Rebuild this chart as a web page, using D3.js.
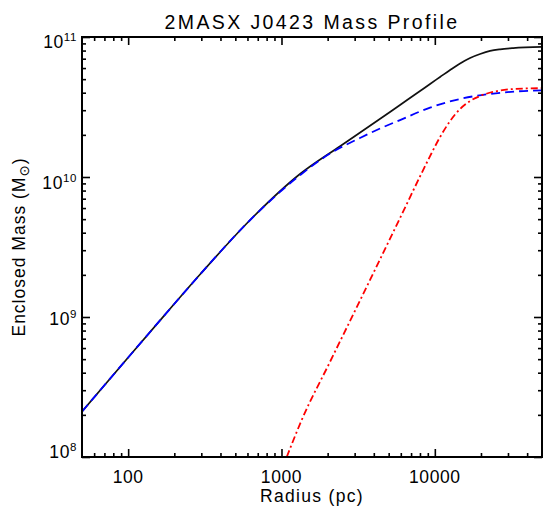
<!DOCTYPE html>
<html>
<head>
<meta charset="utf-8">
<script src="https://cdn.jsdelivr.net/npm/d3@7"></script>
<style>
  html, body { margin: 0; padding: 0; background: #fff; }
  svg { display: block; }
  text { font-family: "Liberation Sans", Arial, Helvetica, sans-serif; fill: #000; }
</style>
</head>
<body>
<svg id="chart" width="544" height="508"></svg>
<script>
// ---- data ----
const title = "2MASX J0423 Mass Profile";
const xLabel = "Radius (pc)";
const yLabelMain = "Enclosed Mass (M";
const yLabelSub = "\u2299";

const xMajorTicks = [100, 1000, 10000];
const xTickLabels = ["100", "1000", "10000"];
const xMinorTicks = [60, 70, 80, 90, 200, 300, 400, 500, 600, 700, 800, 900,
                     2000, 3000, 4000, 5000, 6000, 7000, 8000, 9000, 20000, 30000, 40000];
const yMajorTicks = [1e8, 1e9, 1e10, 1e11];
const yTickExponents = ["8", "9", "10", "11"];
const yMinorTicks = [2e8,3e8,4e8,5e8,6e8,7e8,8e8,9e8,
                     2e9,3e9,4e9,5e9,6e9,7e9,8e9,9e9,
                     2e10,3e10,4e10,5e10,6e10,7e10,8e10,9e10];

// total (black, solid)
const radiusTotal = [50, 100, 174, 294, 620, 1320, 2410, 4260, 5930, 8010, 9310, 10820, 12580, 14610, 16980, 19740, 22930, 26650, 32390, 50000];
const massTotal   = [2.11e8, 5.14e8, 1.04e9, 2.01e9, 4.89e9, 1.05e10, 1.66e10, 2.54e10, 3.27e10, 4.11e10, 4.62e10, 5.18e10, 5.81e10, 6.47e10, 7.08e10, 7.56e10, 7.95e10, 8.17e10, 8.34e10, 8.51e10];
// stars (blue, dashed)
const radiusStars = [50, 100, 174, 294, 620, 1320, 2070, 3250, 4400, 5930, 9310, 14600, 22900, 33400, 50000];
const massStars   = [2.11e8, 5.14e8, 1.04e9, 2.01e9, 4.89e9, 1.03e10, 1.47e10, 1.90e10, 2.22e10, 2.55e10, 3.13e10, 3.61e10, 3.92e10, 4.08e10, 4.15e10];
// dark matter (red, dash-dot)
const radiusDM = [1082, 1355, 2070, 3780, 5930, 8010, 9310, 10820, 12580, 14610, 16980, 19740, 25470, 32390, 50000];
const massDM   = [1.0e8, 1.84e8, 4.77e8, 1.84e9, 5.09e9, 1.01e10, 1.41e10, 1.93e10, 2.51e10, 3.06e10, 3.49e10, 3.79e10, 4.11e10, 4.25e10, 4.31e10];

// ---- layout ----
const L = 82, R = 542, T = 37, B = 457;
const svg = d3.select("#chart");

const x = d3.scaleLog().domain([50, 50000]).range([L, R]);
const y = d3.scaleLog().domain([1e8, 1e11]).range([B, T]);

// clip
svg.append("defs").append("clipPath").attr("id", "clip")
  .append("rect").attr("x", L).attr("y", T).attr("width", R - L).attr("height", B - T);

const g = svg.append("g").attr("clip-path", "url(#clip)");
const zip = (a, b) => a.map((v, i) => [v, b[i]]);
const line = d3.line().x(d => x(d[0])).y(d => y(d[1])).curve(d3.curveMonotoneX);

g.append("path").datum(zip(radiusTotal, massTotal)).attr("d", line)
  .attr("fill", "none").attr("stroke", "#111").attr("stroke-width", 1.7);
g.append("path").datum(zip(radiusStars, massStars)).attr("d", line)
  .attr("fill", "none").attr("stroke", "#0000ff").attr("stroke-width", 1.8)
  .attr("stroke-dasharray", "9,5");
g.append("path").datum(zip(radiusDM, massDM)).attr("d", line)
  .attr("fill", "none").attr("stroke", "#ff0000").attr("stroke-width", 1.8)
  .attr("stroke-dasharray", "7,3,2,3");

// ---- axes (ticks inward on all four sides) ----
function tickAxis(axisFn, scale, values, size, pos) {
  const a = axisFn(scale).tickValues(values).tickSizeInner(-size).tickSizeOuter(0).tickFormat("");
  const sel = svg.append("g").attr("transform", pos).call(a);
  sel.select(".domain").remove();
  sel.selectAll("line").attr("stroke", "#000").attr("stroke-width", 1.6);
  return sel;
}
tickAxis(d3.axisBottom, x, xMajorTicks, 8, `translate(0,${B})`);
tickAxis(d3.axisBottom, x, xMinorTicks, 4, `translate(0,${B})`);
tickAxis(d3.axisTop, x, xMajorTicks, 8, `translate(0,${T})`);
tickAxis(d3.axisTop, x, xMinorTicks, 4, `translate(0,${T})`);
tickAxis(d3.axisLeft, y, yMajorTicks, 8, `translate(${L},0)`);
tickAxis(d3.axisLeft, y, yMinorTicks, 4, `translate(${L},0)`);
tickAxis(d3.axisRight, y, yMajorTicks, 8, `translate(${R},0)`);
tickAxis(d3.axisRight, y, yMinorTicks, 4, `translate(${R},0)`);

// frame
svg.append("rect").attr("x", L).attr("y", T).attr("width", R - L).attr("height", B - T)
  .attr("fill", "none").attr("stroke", "#000").attr("stroke-width", 2);

// x tick labels
svg.append("g").selectAll("text").data(xMajorTicks).join("text")
  .attr("x", d => x(d)).attr("y", 483)
  .attr("text-anchor", "middle").attr("font-size", 17.5).attr("letter-spacing", 0.6)
  .text((d, i) => xTickLabels[i]);

// y tick labels (10 with superscript exponent)
const yOff = [-5, 2, 6, 5];
const yl = svg.append("g").selectAll("text").data(yMajorTicks).join("text")
  .attr("x", 77).attr("y", (d, i) => y(d) + 6 + yOff[i])
  .attr("text-anchor", "end").attr("font-size", 17.5).attr("letter-spacing", 0.6);
yl.append("tspan").text("10");
yl.append("tspan").attr("font-size", 11.5).attr("dy", -7).text((d, i) => yTickExponents[i]);

// title
svg.append("text").attr("x", 312).attr("y", 28.5).attr("text-anchor", "middle")
  .attr("font-size", 19.5).attr("letter-spacing", 2.4).text(title);

// x label
svg.append("text").attr("x", 312).attr("y", 502).attr("text-anchor", "middle")
  .attr("font-size", 17.5).attr("letter-spacing", 1.3).text(xLabel);

// y label
const ylab = svg.append("text").attr("transform", "translate(25,247) rotate(-90)")
  .attr("text-anchor", "middle").attr("font-size", 17.5).attr("letter-spacing", 1.0);
ylab.append("tspan").text(yLabelMain);
ylab.append("tspan").attr("font-size", 13.5).attr("dy", 4)
  .style("font-family", "'DejaVu Sans', sans-serif").text(yLabelSub);
ylab.append("tspan").attr("dy", -4).text(")");
</script>
</body>
</html>
